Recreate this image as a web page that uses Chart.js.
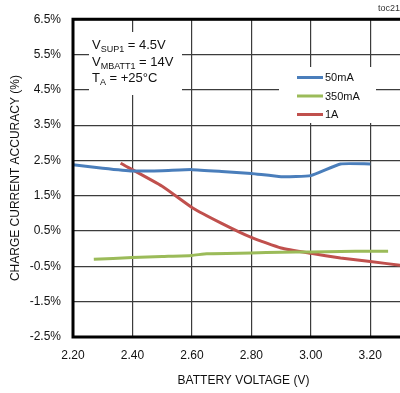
<!DOCTYPE html>
<html>
<head>
<meta charset="UTF-8">
<title>Charge current accuracy vs battery voltage</title>
<script src="https://cdn.jsdelivr.net/npm/chart.js@4/dist/chart.umd.min.js"></script>
<style>
  html, body { margin: 0; padding: 0; background: #fff; }
  #wrap { width: 400px; height: 393px; }
</style>
</head>
<body>
<div id="wrap"><canvas id="c" width="400" height="393"></canvas></div>
<script>
// battery voltage (V) and charge current accuracy (%) per charge current
var volts50 = [2.20, 2.30, 2.40, 2.50, 2.60, 2.70, 2.80, 2.90, 3.00, 3.10, 3.20];
var acc50   = [2.38, 2.28, 2.20, 2.21, 2.24, 2.19, 2.13, 2.04, 2.07, 2.40, 2.40];

var volts350 = [2.27, 2.40, 2.50, 2.60, 2.65, 2.80, 2.90, 3.00, 3.10, 3.20, 3.26];
var acc350   = [-0.30, -0.25, -0.22, -0.19, -0.14, -0.12, -0.10, -0.09, -0.08, -0.07, -0.07];

var volts1A = [2.36, 2.50, 2.60, 2.70, 2.80, 2.90, 3.00, 3.10, 3.20, 3.30];
var acc1A   = [2.42, 1.77, 1.17, 0.72, 0.32, 0.02, -0.13, -0.26, -0.36, -0.47];

var seriesNames = ['50mA', '350mA', '1A'];
var seriesColors = ['#4a7ebb', '#9bbb59', '#c0504d'];

var xTicks = [2.20, 2.40, 2.60, 2.80, 3.00, 3.20];
var yTicks = [-2.5, -1.5, -0.5, 0.5, 1.5, 2.5, 3.5, 4.5, 5.5, 6.5];

var FONT = '"Liberation Sans", Arial, sans-serif';

function pts(xs, ys) {
  return xs.map(function (x, i) { return { x: x, y: ys[i] }; });
}

var seriesData = [pts(volts50, acc50), pts(volts350, acc350), pts(volts1A, acc1A)];

// text, boxes and frame drawn on top of the grid
var decor = {
  id: 'decor',
  beforeDatasetsDraw: function (chart) {
    var ctx = chart.ctx;
    ctx.save();
    // white patches behind the condition text and the legend
    ctx.fillStyle = '#fff';
    ctx.fillRect(89, 32, 93, 63);
    ctx.fillRect(279, 67, 97, 56);

    // test conditions
    ctx.fillStyle = '#111';
    ctx.textBaseline = 'alphabetic';
    var lines = [['V', 'SUP1', ' = 4.5V'], ['V', 'MBATT1', ' = 14V'], ['T', 'A', ' = +25\u00B0C']];
    lines.forEach(function (l, i) {
      var x = 92, y = 49 + i * 16.5;
      ctx.font = '13px ' + FONT;
      ctx.fillText(l[0], x, y);
      x += ctx.measureText(l[0]).width;
      ctx.font = '9px ' + FONT;
      ctx.fillText(l[1], x, y + 3);
      x += ctx.measureText(l[1]).width;
      ctx.font = '13px ' + FONT;
      ctx.fillText(l[2], x, y);
    });

    // legend
    ctx.font = '11px ' + FONT;
    ctx.textBaseline = 'middle';
    chart.data.datasets.forEach(function (ds, i) {
      var y = 77.5 + i * 18.5;
      ctx.strokeStyle = ds.borderColor;
      ctx.lineWidth = 3;
      ctx.beginPath();
      ctx.moveTo(297, y);
      ctx.lineTo(323, y);
      ctx.stroke();
      ctx.fillStyle = '#111';
      ctx.fillText(ds.label, 325, y + 0.5);
    });
    ctx.restore();
  },
  afterDraw: function (chart) {
    var ctx = chart.ctx, a = chart.chartArea;
    ctx.save();
    // heavy frame on left, top and bottom
    ctx.strokeStyle = '#000';
    ctx.lineWidth = 3;
    ctx.beginPath();
    ctx.moveTo(a.right + 2, a.top);
    ctx.lineTo(a.left, a.top);
    ctx.lineTo(a.left, a.bottom);
    ctx.lineTo(a.right + 2, a.bottom);
    ctx.stroke();

    // axis titles
    ctx.fillStyle = '#111';
    ctx.font = '12px ' + FONT;
    ctx.textAlign = 'center';
    ctx.textBaseline = 'middle';
    ctx.fillText('BATTERY VOLTAGE (V)', (a.left + a.right) / 2 + 7, 381);
    ctx.save();
    ctx.translate(16, (a.top + a.bottom) / 2);
    ctx.rotate(-Math.PI / 2);
    ctx.fillText('CHARGE CURRENT ACCURACY (%)', 0, 0);
    ctx.restore();

    ctx.font = '9px ' + FONT;
    ctx.textAlign = 'right';
    ctx.fillStyle = '#333';
    ctx.fillText('toc21', 400, 9);
    ctx.restore();
  }
};

new Chart(document.getElementById('c'), {
  type: 'scatter',
  data: {
    datasets: seriesData.map(function (d, i) {
      return {
        label: seriesNames[i],
        data: d,
        showLine: true,
        borderColor: seriesColors[i],
        backgroundColor: seriesColors[i],
        borderWidth: 3,
        pointRadius: 0,
        tension: 0.15
      };
    })
  },
  options: {
    responsive: false,
    animation: false,
    events: [],
    layout: { padding: { top: 18, right: 0, left: 0, bottom: 0 } },
    plugins: { legend: { display: false }, tooltip: { enabled: false } },
    scales: {
      x: {
        type: 'linear',
        min: 2.2,
        max: 3.3,
        afterBuildTicks: function (s) { s.ticks = xTicks.map(function (v) { return { value: v }; }); },
        afterFit: function (s) { s.height = 56; },
        grid: { color: '#3c3c3c', lineWidth: 1.2, drawTicks: false },
        border: { display: false },
        ticks: {
          padding: 11,
          color: '#111',
          font: { family: FONT, size: 12 },
          maxRotation: 0,
          callback: function (v) { return Number(v).toFixed(2); }
        }
      },
      y: {
        min: -2.5,
        max: 6.5,
        afterBuildTicks: function (s) { s.ticks = yTicks.map(function (v) { return { value: v }; }); },
        afterFit: function (s) { s.width = 73; },
        grid: { color: '#3c3c3c', lineWidth: 1.2, drawTicks: false },
        border: { display: false },
        ticks: {
          padding: 12,
          color: '#111',
          font: { family: FONT, size: 12 },
          callback: function (v) { return Number(v).toFixed(1) + '%'; }
        }
      }
    }
  },
  plugins: [decor]
});
</script>
</body>
</html>
